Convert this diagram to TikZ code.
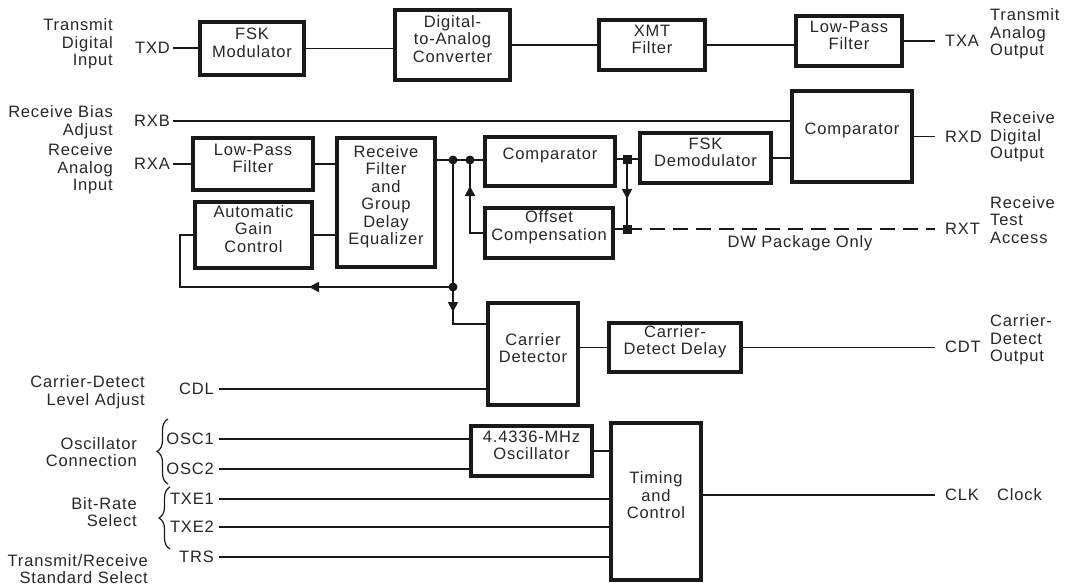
\documentclass[tikz,border=0pt]{standalone}
\usepackage{fontspec}
\setmainfont{Liberation Sans}[LetterSpace=5]
\usetikzlibrary{arrows.meta,fit,decorations.pathreplacing}
\begin{document}
\begin{tikzpicture}[x=1pt,y=-1pt,
 every node/.style={font=\fontsize{16.5}{17.5}\selectfont, text=black!85},
 blk/.style={draw=black!90, line width=3.2pt, inner sep=0pt, align=center},
 wire/.style={line width=1.8pt, draw=black!90},
 pinl/.style={inner xsep=3pt, inner ysep=1pt},
 pinr/.style={inner xsep=10pt, inner ysep=1pt, anchor=west},
 desc/.style={align=right, anchor=east, inner sep=0pt},
 descr/.style={align=left, anchor=west, inner sep=0pt},
 arr/.style={-{Triangle[length=10pt,width=10pt]}, line width=1.8pt, draw=black!90},
 jdot/.style={circle, fill=black!90, inner sep=0pt, minimum size=9pt},
 jsq/.style={rectangle, fill=black!90, inner sep=0pt, minimum size=9pt},
 brc/.style={line width=1.2pt, draw=black!90, decorate, decoration={brace, amplitude=11pt}},
]
\useasboundingbox (0,0) rectangle (1069,586);

% ---- boxes
\node[blk, fit={(200,22) (304,75)}] (fsk) {FSK\\Modulator};
\node[blk, fit={(395,10) (510,80)}] (dac) {Digital-\\to-Analog\\Converter};
\node[blk, fit={(599,20) (705,70)}] (xmt) {XMT\\Filter};
\node[blk, fit={(796,16) (902,66)}] (lpft) {Low-Pass\\Filter};
\node[blk, fit={(792,91) (912,182)}] (cmpb) {Comparator};
\node[blk, fit={(193,138) (313,190)}] (lpfr) {Low-Pass\\Filter};
\node[blk, fit={(337,138) (435,267)}] (rfg) {Receive\\Filter\\and\\Group\\Delay\\Equalizer};
\node[blk, fit={(195,202) (312,268)}] (agc) {Automatic\\Gain\\Control};
\node[blk, fit={(485,137) (615,186)}] (cmpr) {Comparator};
\node[blk, fit={(640,133) (771,183)}] (fskd) {FSK\\Demodulator};
\node[blk, fit={(485,208) (613,258)}] (ofs) {Offset\\Compensation};
\node[blk, fit={(488,303) (578,405)}] (cdet) {Carrier\\Detector};
\node[blk, fit={(609,323) (741,372)}] (cdd) {Carrier-\\Detect Delay};
\node[blk, fit={(471,426) (592,476)}] (osc) {4.4336-MHz\\Oscillator};
\node[blk, fit={(611,423) (701,580)}] (tac) {Timing\\and\\Control};

% ---- pin labels
\node[pinl, anchor=east] (txd) at (173,48) {TXD};
\node[pinl, anchor=east] (rxb) at (173,121) {RXB};
\node[pinl, anchor=east] (rxa) at (173,164) {RXA};
\node[pinl, anchor=east, inner xsep=5pt] (cdl) at (219,389) {CDL};
\node[pinl, anchor=east, inner xsep=5pt] (osc1) at (219,439) {OSC1};
\node[pinl, anchor=east, inner xsep=5pt] (osc2) at (219,469) {OSC2};
\node[pinl, anchor=east, inner xsep=5pt] (txe1) at (219,499) {TXE1};
\node[pinl, anchor=east, inner xsep=5pt] (txe2) at (219,527) {TXE2};
\node[pinl, anchor=east, inner xsep=5pt] (trs) at (219,557) {TRS};
\node[pinr] (txa) at (935,41) {TXA};
\node[pinr] (rxd) at (935,137) {RXD};
\node[pinr] (rxt) at (935,229) {RXT};
\node[pinr] (cdt) at (935,347) {CDT};
\node[pinr] (clk) at (935,495) {CLK};

% ---- descriptions
\node[desc] (dTDI) at (113,44) {Transmit\\Digital\\Input};
\node[desc] (dRBA) at (113,122) {Receive Bias\\Adjust};
\node[desc] (dRAI) at (113,169) {Receive\\Analog\\Input};
\node[desc] (dCDL) at (145,392) {Carrier-Detect\\Level Adjust};
\node[desc] (dOSC) at (137,452) {Oscillator\\Connection};
\node[desc] (dBRS) at (137,512) {Bit-Rate\\Select};
\node[desc] (dTRS) at (148,569) {Transmit/Receive\\Standard Select};
\node[descr] (dTAO) at (990,34) {Transmit\\Analog\\Output};
\node[descr] (dRDO) at (990,137) {Receive\\Digital\\Output};
\node[descr] (dRTA) at (990,220) {Receive\\Test\\Access};
\node[descr] (dCDO) at (990,340) {Carrier-\\Detect\\Output};
\node[descr] (dCLK) at (997,495) {Clock};
\node (dw) at (800,243) {DW Package Only};

% ---- braces
\draw[brc] (168,484) -- (168,419);
\draw[brc] (170,549) -- (170,487);

% ---- junctions
\coordinate (j1) at (453,160);
\coordinate (j2) at (470,160);
\coordinate (j3) at (627,159);
\coordinate (j4) at (627,229);
\coordinate (j5) at (453,287);
\coordinate (j6) at (453,324);
\coordinate (fb) at (180,287);

% ---- transmit path
\draw[wire] (txd.east) -- (txd.east -| fsk.west);
\draw[wire] (fsk.east) -- (fsk.east -| dac.west);
\draw[wire] (dac.east) -- (dac.east -| xmt.west);
\draw[wire] (xmt.east) -- (xmt.east -| lpft.west);
\draw[wire] (lpft.east) -- (lpft.east -| txa.west);

% ---- receive path
\draw[wire] (rxb.east) -- (rxb.east -| cmpb.west);
\draw[wire] (rxa.east) -- (rxa.east -| lpfr.west);
\draw[wire] (lpfr.east) -- (lpfr.east -| rfg.west);
\draw[wire] (agc.east) -- (agc.east -| rfg.west);
\draw[wire] (j1 -| rfg.east) -- (j1 -| cmpr.west);
\draw[wire] (j1) -- (j5) -- (j6) -- (j6 -| cdet.west);
\draw[wire] (j5) -- (fb) -- (fb |- agc.west) -- (agc.west);
\draw[wire] (ofs.west) -- (ofs.west -| j2) -- (j2);
\draw[wire] (j3 -| cmpr.east) -- (j3 -| fskd.west);
\draw[wire] (j3) -- (j4);
\draw[wire] (j4 -| ofs.east) -- (j4);
\draw[wire, dash pattern=on 15pt off 8pt] (j4) -- (j4 -| rxt.west);
\draw[wire] (fskd.east) -- (fskd.east -| cmpb.west);
\draw[wire] (cmpb.east) -- (cmpb.east -| rxd.west);

% ---- carrier detect
\draw[wire] (cdd.west) -- (cdd.west -| cdet.east);
\draw[wire] (cdd.east) -- (cdd.east -| cdt.west);
\draw[wire] (cdl.east) -- (cdl.east -| cdet.west);

% ---- timing
\draw[wire] (osc1.east) -- (osc1.east -| osc.west);
\draw[wire] (osc2.east) -- (osc2.east -| osc.west);
\draw[wire] (osc.east) -- (osc.east -| tac.west);
\draw[wire] (txe1.east) -- (txe1.east -| tac.west);
\draw[wire] (txe2.east) -- (txe2.east -| tac.west);
\draw[wire] (trs.east) -- (trs.east -| tac.west);
\draw[wire] (clk.west -| tac.east) -- (clk.west);

% ---- arrowheads
\draw[arr] (627,186) -- (627,199);
\draw[arr] (470,200) -- (470,186);
\draw[arr] (453,299) -- (453,312);
\draw[arr] (325,287) -- (309,287);

% ---- dots
\node[jdot] (d1) at (j1) {};
\node[jdot] (d2) at (j2) {};
\node[jdot] (d5) at (j5) {};
\node[jsq] (d3) at (j3) {};
\node[jsq] (d4) at (j4) {};
\end{tikzpicture}
\end{document}
